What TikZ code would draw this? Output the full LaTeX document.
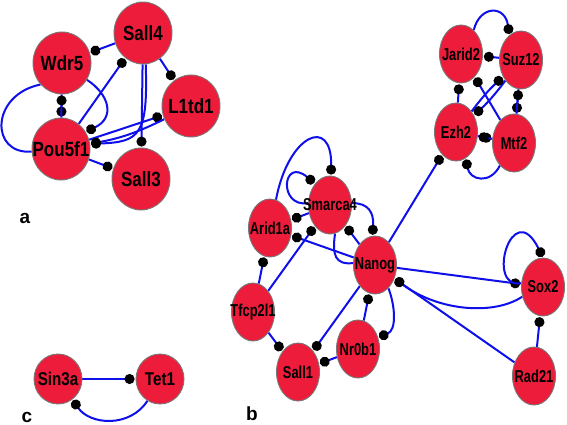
\documentclass[tikz,border=0pt]{standalone}
\usepackage{fontspec}
\setmainfont{Liberation Sans}
\newfontfamily\fA{Liberation Sans}[FakeStretch=0.83]
\newfontfamily\fB{Liberation Sans}[FakeStretch=0.75]
\newfontfamily\fC{Liberation Sans}[FakeStretch=0.82]
\usetikzlibrary{shapes.geometric,arrows.meta}
\definecolor{nred}{RGB}{237,28,58}
\definecolor{eblue}{RGB}{15,15,235}
\definecolor{nborder}{RGB}{120,120,120}
\newcommand{\zt}[1]{\makebox[0pt]{#1}}
\pgfdeclarelayer{bg}
\pgfdeclarelayer{edges}
\pgfsetlayers{bg,edges,main}
\begin{document}
\begin{tikzpicture}[x=1pt,y=1pt,
  gnode/.style={ellipse,draw=nborder,line width=0.9pt,fill=nred,inner sep=0pt,text=black},
  anode/.style={gnode,minimum width=58pt,minimum height=62pt,font=\fA\bfseries\fontsize{20.5}{21}\selectfont},
  bnode/.style={gnode,minimum width=43pt,minimum height=58pt,font=\fB\bfseries\fontsize{17.2}{18}\selectfont},
  cnode/.style={gnode,minimum width=48pt,minimum height=50pt,font=\fC\bfseries\fontsize{18.5}{19}\selectfont},
  edge/.style={draw=eblue,line width=2pt},
  tip/.style={edge,-{Circle[length=10pt,color=black]},shorten >=1pt},
  plabel/.style={font=\bfseries\fontsize{19}{19}\selectfont,inner sep=0pt}
]
\begin{pgfonlayer}{bg}
\fill[white] (0,0) rectangle (567,-425);
\end{pgfonlayer}
\useasboundingbox (0,0) rectangle (567,-425);

% panel a
\node[anode] (sall4) at (143,-33) {\zt{Sall4}};
\node[anode] (wdr5) at (62,-63) {\zt{Wdr5}};
\node[anode] (l1td1) at (191,-106) {\zt{L1td1}};
\node[anode] (pou5f1) at (61,-149) {\zt{Pou5f1}};
\node[anode] (sall3) at (141,-179) {\zt{Sall3}};

% panel b
\node[bnode] (jarid2) at (461,-54) {\zt{Jarid2}};
\node[bnode] (suz12) at (521,-60) {\zt{Suz12}};
\node[bnode] (ezh2) at (456,-132) {\zt{Ezh2}};
\node[bnode] (mtf2) at (514,-143) {\zt{Mtf2}};
\node[bnode] (smarca4) at (330,-205) {\zt{Smarca4}};
\node[bnode] (arid1a) at (270,-228) {\zt{Arid1a}};
\node[bnode] (nanog) at (375,-265) {\zt{Nanog}};
\node[bnode] (tfcp2l1) at (253,-312) {\zt{Tfcp2l1}};
\node[bnode] (sall1) at (298,-372) {\zt{Sall1}};
\node[bnode] (nr0b1) at (358,-349) {\zt{Nr0b1}};
\node[bnode] (sox2) at (543,-287) {\zt{Sox2}};
\node[bnode] (rad21) at (534,-376) {\zt{Rad21}};

% panel c
\node[cnode] (sin3a) at (58,-379) {\zt{Sin3a}};
\node[cnode] (tet1) at (160,-379) {\zt{Tet1}};

% labels
\node[plabel,anchor=base] (la) at (25,-223) {a};
\node[plabel,anchor=base] (lb) at (252,-420) {b};
\node[plabel,anchor=base] (lc) at (27,-422) {c};

\begin{pgfonlayer}{edges}
% panel a
\draw[tip] (sall4) -- (wdr5);
\draw[tip] (pou5f1) -- (sall4);
\draw[tip] (wdr5) -- (pou5f1);
\draw[tip] (pou5f1) -- (wdr5);
\draw[edge] (wdr5.225) .. controls (-10,-95) and (-10,-155) .. (pou5f1.185);
\draw[tip] (wdr5.-34) .. controls (110,-95) and (115,-118) .. (pou5f1.35);
\draw[tip] (sall4) -- (sall3);
\draw[tip] (sall4.-85) .. controls (148,-135) and (140,-142) .. (pou5f1.10);
\draw[tip] (pou5f1) -- (l1td1);
\draw[tip] (l1td1) to[bend left=8] (pou5f1);
\draw[tip] (sall4) -- (l1td1);
\draw[tip] (pou5f1) -- (sall3);
% panel b, top cluster
\draw[tip] (jarid2.62) .. controls (480,-5) and (505,-5) .. (suz12.115);
\draw[tip] (suz12) -- (jarid2);
\draw[tip] (ezh2) -- (jarid2);
\draw[tip] (mtf2) -- (jarid2);
\draw[tip] (suz12) to[bend left=5] (ezh2);
\draw[tip] (ezh2) to[bend left=5] (suz12);
\draw[tip] (suz12) -- (mtf2);
\draw[tip] (mtf2) -- (suz12);
\draw[tip] (ezh2) -- (mtf2);
\draw[tip] (mtf2) -- (ezh2);
\draw[tip] (mtf2.238) .. controls (490,-185) and (470,-180) .. (ezh2.-70);
\draw[tip] (nanog) -- (ezh2);
% panel b, main cluster
\draw[tip] (arid1a.78) .. controls (288,-135) and (332,-115) .. (smarca4.88);
\draw[tip] (smarca4.175) .. controls (278,-208) and (282,-156) .. (smarca4.125);
\draw[tip] (smarca4) -- (arid1a);
\draw[tip] (nanog) -- (arid1a);
\draw[tip] (tfcp2l1) -- (smarca4);
\draw[tip] (nanog) -- (smarca4);
\draw[tip] (smarca4.5) .. controls (368,-203) and (374,-212) .. (nanog.95);
\draw[edge] (smarca4.-80) .. controls (332,-255) and (335,-265) .. (nanog.175);
\draw[tip] (tfcp2l1) -- (arid1a);
\draw[tip] (nanog) -- (sox2);
\draw[tip] (sox2.170) .. controls (485,-290) and (512,-195) .. (sox2.90);
\draw[tip] (sox2.205) .. controls (495,-315) and (440,-312) .. (nanog.-35);
\draw[tip] (rad21) -- (nanog);
\draw[tip] (rad21) -- (sox2);
\draw[tip] (nanog.-60) .. controls (395,-305) and (397,-330) .. (nr0b1.30);
\draw[tip] (nr0b1) -- (nanog);
\draw[tip] (nanog) -- (sall1);
\draw[tip] (tfcp2l1) -- (sall1);
\draw[tip] (nr0b1) -- (sall1);
% panel c
\draw[tip] (sin3a) -- (tet1);
\draw[tip] (tet1.240) .. controls (130,-428) and (90,-425) .. (sin3a.-55);
\end{pgfonlayer}
\end{tikzpicture}
\end{document}
